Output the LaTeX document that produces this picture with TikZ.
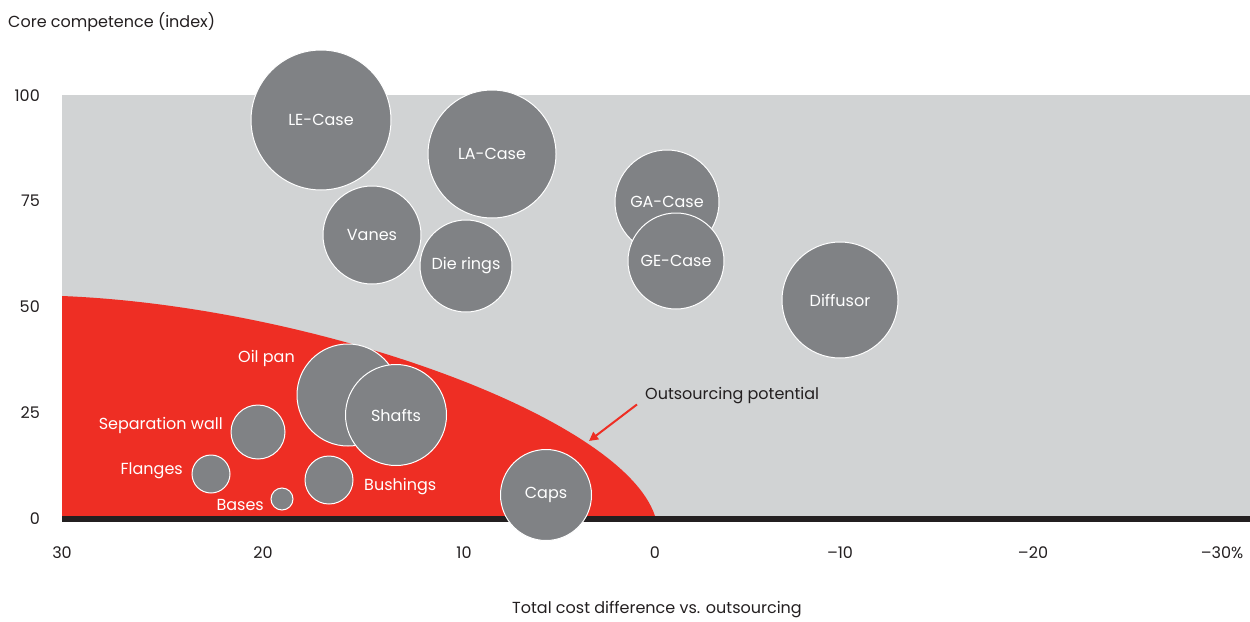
\documentclass[tikz,border=0pt]{standalone}
\usepackage{fontspec}
\setmainfont{Poppins}
\usetikzlibrary{arrows.meta}
\definecolor{bggray}{HTML}{D1D3D4}
\definecolor{bubblegray}{HTML}{808285}
\definecolor{outred}{HTML}{EE2E24}
\definecolor{inkblack}{HTML}{231F20}
\tikzset{
  bubble/.style={circle, fill=bubblegray, draw=white, line width=1pt, inner sep=0pt,
    text=white, font=\fontsize{16}{18}\selectfont},
  onred/.style={text=white, inner sep=0pt, font=\fontsize{16}{18}\selectfont},
  axistext/.style={text=inkblack, inner sep=0pt, font=\fontsize{16}{18}\selectfont},
  potarrow/.style={draw=outred, line width=2pt, -{Triangle[length=9pt,width=9pt]}}
}
\begin{document}
\begin{tikzpicture}[x=1pt, y=-1pt]
    \useasboundingbox (0,0) rectangle (1250,621);
    % plot area
    \fill [bggray] (62,95) rectangle (1250,516);
    \fill [outred] (62,296) .. controls (312,306) and (622,416) .. (655,516) -- (62,516) -- cycle;
    \fill [inkblack] (62,516) rectangle (1250,522);
    % bubbles
    \node [bubble, minimum size=140pt] (lecase) at (321,120) {LE-Case};
    \node [bubble, minimum size=128pt] (lacase) at (492,154) {LA-Case};
    \node [bubble, minimum size=98pt] (vanes) at (372,235) {Vanes};
    \node [bubble, minimum size=92pt] (dierings) at (466,266) {Die rings};
    \node [bubble, minimum size=104pt] (gacase) at (667,202) {GA-Case};
    \node [bubble, minimum size=96pt] (gecase) at (676,261) {GE-Case};
    \node [bubble, minimum size=116pt] (diffusor) at (840,300) {Diffusor};
    \node [bubble, minimum size=102pt] (oilpan) at (348,395) {};
    \node [bubble, minimum size=101pt] (shafts) at (396,415) {Shafts};
    \node [bubble, minimum size=54pt] (sepwall) at (258,432) {};
    \node [bubble, minimum size=38pt] (flanges) at (211,474) {};
    \node [bubble, minimum size=22pt] (bases) at (282,499) {};
    \node [bubble, minimum size=48pt] (bushings) at (329,480) {};
    \node [bubble, minimum size=91pt] (caps) at (546,495) {Caps};
    % labels on the red area
    \node [onred, anchor=east] (oilpanlbl) at (295,358) {Oil pan};
    \node [onred, anchor=east] (sepwalllbl) at (223,425) {Separation wall};
    \node [onred, anchor=east] (flangeslbl) at (183,471) {Flanges};
    \node [onred, anchor=east] (baseslbl) at (264,505) {Bases};
    \node [onred, anchor=west] (bushingslbl) at (364,487) {Bushings};
    % outsourcing potential
    \node [axistext, anchor=west] (opot) at (645,396) {Outsourcing potential};
    \coordinate (opottip) at (589,441);
    \draw [potarrow] ([xshift=-8pt]opot.south west) -- (opottip);
    % axes
    \node [axistext, anchor=west] (ytitle) at (8,22) {Core competence (index)};
    \foreach \val/\ypos in {100/96, 75/201, 50/307, 25/413, 0/519}
        \node [axistext, anchor=east] (y\val) at (40,\ypos) {\val};
    \foreach \name/\val/\xpos in {a/30/62, b/20/263, c/10/464, d/0/655, e/–10/840, f/–20/1033, g/–30\%/1222}
        \node [axistext] (x\name) at (\xpos,553) {\val};
    \node [axistext] (xtitle) at (657,610) {Total cost difference vs. outsourcing};
\end{tikzpicture}
\end{document}
